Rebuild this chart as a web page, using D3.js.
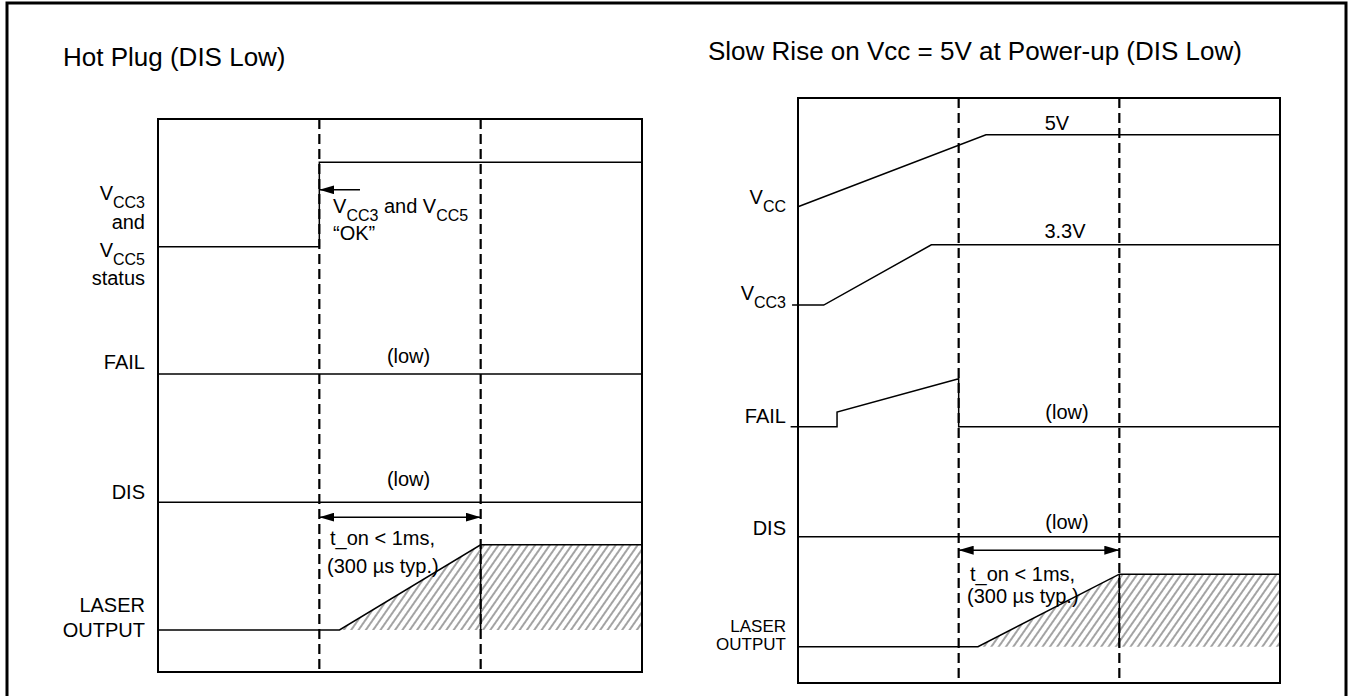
<!DOCTYPE html>
<html>
<head>
<meta charset="utf-8">
<script src="https://cdn.jsdelivr.net/npm/d3@7"></script>
<style>
body { margin: 0; background: #fff; }
text { font-family: "Liberation Sans", Arial, sans-serif; fill: #000; }
</style>
</head>
<body>
<div id="chart"></div>
<script>
// time runs 0..3 in each panel, dashed markers split it in thirds
var markers = [1, 2];

// signal levels are 0..100 from box bottom to box top
// --- Hot Plug (DIS Low)
var hotStatus = [[0, 76.9], [1, 76.9], [1, 92.2], [3, 92.2]];
var hotFail = [[0, 53.9], [3, 53.9]];
var hotDis = [[0, 30.7], [3, 30.7]];
var hotLaser = [[0, 7.6], [1.125, 7.6], [2, 23.0], [3, 23.0]];
var hotLabels = [
  {t: "V", sub: "CC3", v: 85.4}, {t: "and", v: 80.1},
  {t: "V", sub: "CC5", v: 75.0}, {t: "status", v: 70.0},
  {t: "FAIL", v: 54.8}, {t: "DIS", v: 31.3},
  {t: "LASER", v: 10.8}, {t: "OUTPUT", v: 6.3}
];
var hotNotes = [
  {parts: [["V"], ["CC3", 1], [" and V"], ["CC5", 1]], t: 1.085, v: 83.0},
  {parts: [["\u201cOK\u201d"]], t: 1.085, v: 78.1},
  {parts: [["(low)"]], t: 1.553, v: 55.9, mid: 1},
  {parts: [["(low)"]], t: 1.553, v: 33.6, mid: 1},
  {parts: [["t_on < 1ms,"]], t: 1.066, v: 23.0},
  {parts: [["(300 \u00b5s typ.)"]], t: 1.048, v: 17.9}
];
var hotOkArrow = [[1.252, 87.2], [1, 87.2]];
var hotSpan = [[1, 28.0], [2, 28.0]];

// --- Slow Rise on Vcc = 5V at Power-up (DIS Low)
var slowVcc = [[0, 81.4], [1.17, 93.7], [3, 93.7]];
var slowVcc3 = [[-0.037, 64.6], [0.16, 64.6], [0.83, 74.9], [3, 74.9]];
var slowFail = [[-0.046, 43.8], [0.243, 43.8], [0.243, 46.3], [1, 52.0], [1, 43.8], [3, 43.8]];
var slowDis = [[0, 25.0], [3, 25.0]];
var slowLaser = [[0, 6.2], [1.12, 6.2], [2, 18.6], [3, 18.6]];
var slowLabels = [
  {t: "V", sub: "CC", v: 81.9}, {t: "V", sub: "CC3", v: 65.5},
  {t: "FAIL", v: 44.4}, {t: "DIS", v: 25.3},
  {t: "LASER", v: 8.7, small: 1}, {t: "OUTPUT", v: 5.6, small: 1}
];
var slowNotes = [
  {parts: [["5V"]], t: 1.612, v: 94.5, mid: 1},
  {parts: [["3.3V"]], t: 1.662, v: 76.1, mid: 1},
  {parts: [["(low)"]], t: 1.674, v: 45.1, mid: 1},
  {parts: [["(low)"]], t: 1.674, v: 26.3, mid: 1},
  {parts: [["t_on < 1ms,"]], t: 1.071, v: 17.4},
  {parts: [["(300 \u00b5s typ.)"]], t: 1.052, v: 13.7}
];
var slowSpan = [[1, 22.7], [2, 22.7]];

var svg = d3.select("#chart").append("svg")
  .attr("width", 1354)
  .attr("height", 696);

svg.append("rect")
  .attr("x", 7).attr("y", 3)
  .attr("width", 1339).attr("height", 720)
  .attr("fill", "none").attr("stroke", "#000").attr("stroke-width", 3);

var defs = svg.append("defs");
defs.append("marker")
  .attr("id", "head")
  .attr("viewBox", "0 0 15 9")
  .attr("refX", 15).attr("refY", 4.5)
  .attr("markerWidth", 15).attr("markerHeight", 9)
  .attr("markerUnits", "userSpaceOnUse")
  .attr("orient", "auto-start-reverse")
  .append("path").attr("d", "M0,0L15,4.5L0,9Z").attr("fill", "#000");

var hatch = defs.append("pattern")
  .attr("id", "hatch")
  .attr("patternUnits", "userSpaceOnUse")
  .attr("width", 6).attr("height", 20)
  .attr("patternTransform", "rotate(35)");
hatch.append("line")
  .attr("x1", 1).attr("x2", 1).attr("y1", 0).attr("y2", 20)
  .attr("stroke", "#333").attr("stroke-width", 0.9);

function panel(o) {
  var x = d3.scaleLinear().domain([0, 3]).range([o.left, o.right]);
  var y = d3.scaleLinear().domain([0, 100]).range([o.bottom, o.top]);
  var g = svg.append("g");
  var line = d3.line().x(function(d) { return x(d[0]); }).y(function(d) { return y(d[1]); });

  g.append("text")
    .attr("x", o.titleX).attr("y", o.titleY)
    .style("font-size", "26px")
    .text(o.title);

  // hatched laser output
  var base = o.laser[0][1];
  g.append("path")
    .datum(o.laser.filter(function(d) { return d[0] >= o.laser[1][0]; }))
    .attr("d", d3.area()
      .x(function(d) { return x(d[0]); })
      .y0(y(base))
      .y1(function(d) { return y(d[1]); }))
    .attr("fill", "url(#hatch)");

  // dashed time markers
  g.selectAll(".mark")
    .data(markers)
    .enter().append("line")
    .attr("x1", function(d) { return x(d); })
    .attr("x2", function(d) { return x(d); })
    .attr("y1", y(100)).attr("y2", y(0))
    .attr("stroke", "#000").attr("stroke-width", 2.2)
    .attr("stroke-dasharray", "10,5");

  o.signals.forEach(function(s) {
    g.append("path")
      .datum(s)
      .attr("d", line)
      .attr("fill", "none").attr("stroke", "#000").attr("stroke-width", 1.5);
  });
  // laser edge at end of t_on
  var top = o.laser[o.laser.length - 1][1];
  g.append("line")
    .attr("x1", x(2)).attr("x2", x(2))
    .attr("y1", y(base)).attr("y2", y(top))
    .attr("stroke", "#000").attr("stroke-width", 1.5);

  g.append("rect")
    .attr("x", x(0)).attr("y", y(100))
    .attr("width", x(3) - x(0)).attr("height", y(0) - y(100))
    .attr("fill", "none").attr("stroke", "#000").attr("stroke-width", 2);

  // row labels
  o.labels.forEach(function(d) {
    var t = g.append("text")
      .attr("x", o.labelX).attr("y", y(d.v))
      .attr("text-anchor", "end")
      .style("font-size", d.small ? "17px" : "20px");
    t.append("tspan").text(d.t);
    if (d.sub) t.append("tspan").attr("dy", 8).style("font-size", "16px").text(d.sub);
  });

  o.notes.forEach(function(d) {
    var t = g.append("text")
      .attr("x", x(d.t)).attr("y", y(d.v))
      .attr("text-anchor", d.mid ? "middle" : "start")
      .style("font-size", "20px");
    var low = false;
    d.parts.forEach(function(p) {
      var ts = t.append("tspan").text(p[0]);
      if (p[1]) { ts.attr("dy", 8).style("font-size", "16px"); low = true; }
      else if (low) { ts.attr("dy", -8); low = false; }
    });
  });

  o.arrows.forEach(function(a) {
    g.append("path")
      .datum(a.pts)
      .attr("d", line)
      .attr("fill", "none").attr("stroke", "#000").attr("stroke-width", 1.5)
      .attr("marker-end", "url(#head)")
      .attr("marker-start", a.both ? "url(#head)" : null);
  });
}

panel({
  left: 158, right: 642, top: 119, bottom: 672,
  title: "Hot Plug (DIS Low)", titleX: 63, titleY: 66,
  labelX: 145,
  signals: [hotStatus, hotFail, hotDis, hotLaser],
  laser: hotLaser,
  labels: hotLabels,
  notes: hotNotes,
  arrows: [{pts: hotOkArrow}, {pts: hotSpan, both: 1}]
});

panel({
  left: 798, right: 1280, top: 98, bottom: 683,
  title: "Slow Rise on Vcc = 5V at Power-up (DIS Low)", titleX: 708, titleY: 60,
  labelX: 786,
  signals: [slowVcc, slowVcc3, slowFail, slowDis, slowLaser],
  laser: slowLaser,
  labels: slowLabels,
  notes: slowNotes,
  arrows: [{pts: slowSpan, both: 1}]
});
</script>
</body>
</html>
